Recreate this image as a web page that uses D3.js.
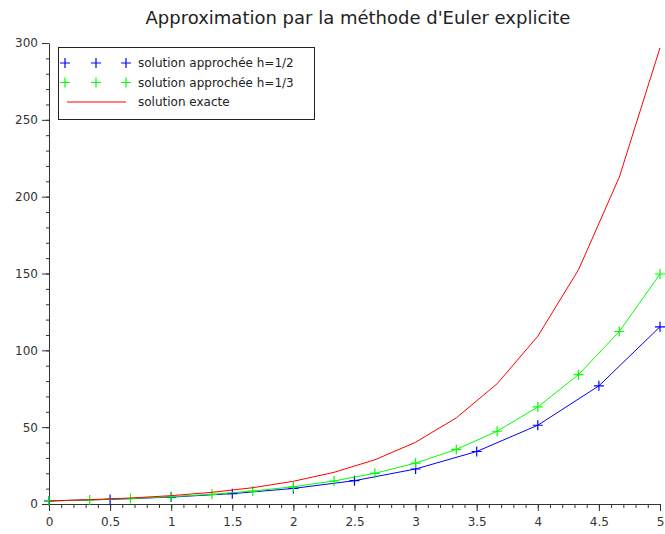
<!DOCTYPE html>
<html>
<head>
<meta charset="utf-8">
<script src="https://cdn.jsdelivr.net/npm/d3@7"></script>
<style>
  body { margin: 0; background: #fff; }
  text { font-family: "DejaVu Sans", sans-serif; }
</style>
</head>
<body>
<div id="chart"></div>
<script>
// values (Euler for y' = y, y(0) = 2)
var xHalf = [0, 0.5, 1, 1.5, 2, 2.5, 3, 3.5, 4, 4.5, 5];
var yHalf = [2, 3, 4.5, 6.75, 10.125, 15.19, 22.78, 34.17, 51.26, 76.89, 115.33];

var xThird = [0, 0.333, 0.667, 1, 1.333, 1.667, 2, 2.333, 2.667, 3, 3.333, 3.667, 4, 4.333, 4.667, 5];
var yThird = [2, 2.67, 3.56, 4.74, 6.32, 8.43, 11.24, 14.98, 19.98, 26.64, 35.52, 47.35, 63.14, 84.19, 112.25, 149.66];
var yExact = [2, 2.79, 3.90, 5.44, 7.59, 10.59, 14.78, 20.62, 28.78, 40.17, 56.06, 78.24, 109.20, 152.40, 212.69, 296.83];

var xTicks = [0, 0.5, 1, 1.5, 2, 2.5, 3, 3.5, 4, 4.5, 5];
var yTicks = [0, 50, 100, 150, 200, 250, 300];
var legendLabels = ["solution approchée h=1/2", "solution approchée h=1/3", "solution exacte"];

var W = 665, H = 534;
var margin = {top: 43, right: 5, bottom: 30, left: 49};
var width = W - margin.left - margin.right;
var height = H - margin.top - margin.bottom;

var svg = d3.select("#chart")
    .append("svg")
    .attr("width", W)
    .attr("height", H);

var g = svg.append("g")
    .attr("transform", "translate(" + margin.left + "," + margin.top + ")");

var x = d3.scaleLinear().domain([0, 5]).range([0, width]);
var y = d3.scaleLinear().domain([0, 300]).range([height, 0]);

// title
svg.append("text")
    .attr("x", 358)
    .attr("y", 24)
    .attr("text-anchor", "middle")
    .attr("font-size", 18)
    .attr("fill", "#222")
    .text("Approximation par la méthode d'Euler explicite");

// minor ticks
g.append("g")
    .attr("transform", "translate(0," + height + ")")
    .call(d3.axisBottom(x).tickValues(d3.range(0, 51).map(function(i) { return i / 10; }))
        .tickSize(4).tickFormat(""))
    .call(function(s) { s.select(".domain").remove(); s.selectAll("line").attr("stroke", "#333"); });

g.append("g")
    .call(d3.axisLeft(y).tickValues(d3.range(0, 31).map(function(i) { return i * 10; }))
        .tickSize(3).tickFormat(""))
    .call(function(s) { s.select(".domain").remove(); s.selectAll("line").attr("stroke", "#333"); });

// major axes
var xAxis = g.append("g")
    .attr("transform", "translate(0," + height + ")")
    .call(d3.axisBottom(x).tickValues(xTicks).tickSize(7).tickSizeOuter(0).tickPadding(6)
        .tickFormat(function(d) { return String(d); }));

var yAxis = g.append("g")
    .call(d3.axisLeft(y).tickValues(yTicks).tickSize(7).tickSizeOuter(0).tickPadding(4));

[xAxis, yAxis].forEach(function(a) {
    a.select(".domain").attr("stroke", "#333");
    a.selectAll("line").attr("stroke", "#333");
    a.selectAll("text").attr("font-size", 12).attr("fill", "#333")
        .style("font-family", "DejaVu Sans, sans-serif");
});

function plus(sel, size) {
    return sel.append("path")
        .attr("d", "M" + (-size) + ",0H" + size + "M0," + (-size) + "V" + size)
        .attr("fill", "none");
}

function series(xs, ys, color, marks) {
    var pts = xs.map(function(d, i) { return [x(d), y(ys[i])]; });
    g.append("path")
        .datum(pts)
        .attr("fill", "none")
        .attr("stroke", color)
        .attr("stroke-width", 1)
        .attr("d", d3.line());
    if (marks) {
        g.selectAll(null)
            .data(pts)
            .enter()
            .append("g")
            .attr("transform", function(d) { return "translate(" + d[0] + "," + d[1] + ")"; })
            .each(function() { plus(d3.select(this), 5).attr("stroke", color).attr("stroke-width", 1.2); });
    }
}

series(xHalf, yHalf, "#0000ff", true);
series(xThird, yThird, "#00ff00", true);
series(xThird, yExact, "#ff0000", false);

// legend
var leg = svg.append("g");
leg.append("rect")
    .attr("x", 58.5).attr("y", 47.5)
    .attr("width", 256).attr("height", 72)
    .attr("fill", "#fff").attr("stroke", "#222");

var colors = ["#0000ff", "#00ff00", "#ff0000"];
legendLabels.forEach(function(lab, i) {
    var ly = 63 + i * 19.5;
    if (i < 2) {
        [65, 96, 126].forEach(function(mx) {
            plus(leg.append("g").attr("transform", "translate(" + mx + "," + ly + ")"), 5)
                .attr("stroke", colors[i]).attr("stroke-width", 1.2);
        });
    } else {
        leg.append("line")
            .attr("x1", 67).attr("x2", 126)
            .attr("y1", ly).attr("y2", ly)
            .attr("stroke", colors[i]);
    }
    leg.append("text")
        .attr("x", 138).attr("y", ly + 4)
        .attr("font-size", 12)
        .attr("fill", "#222")
        .text(lab);
});
</script>
</body>
</html>
